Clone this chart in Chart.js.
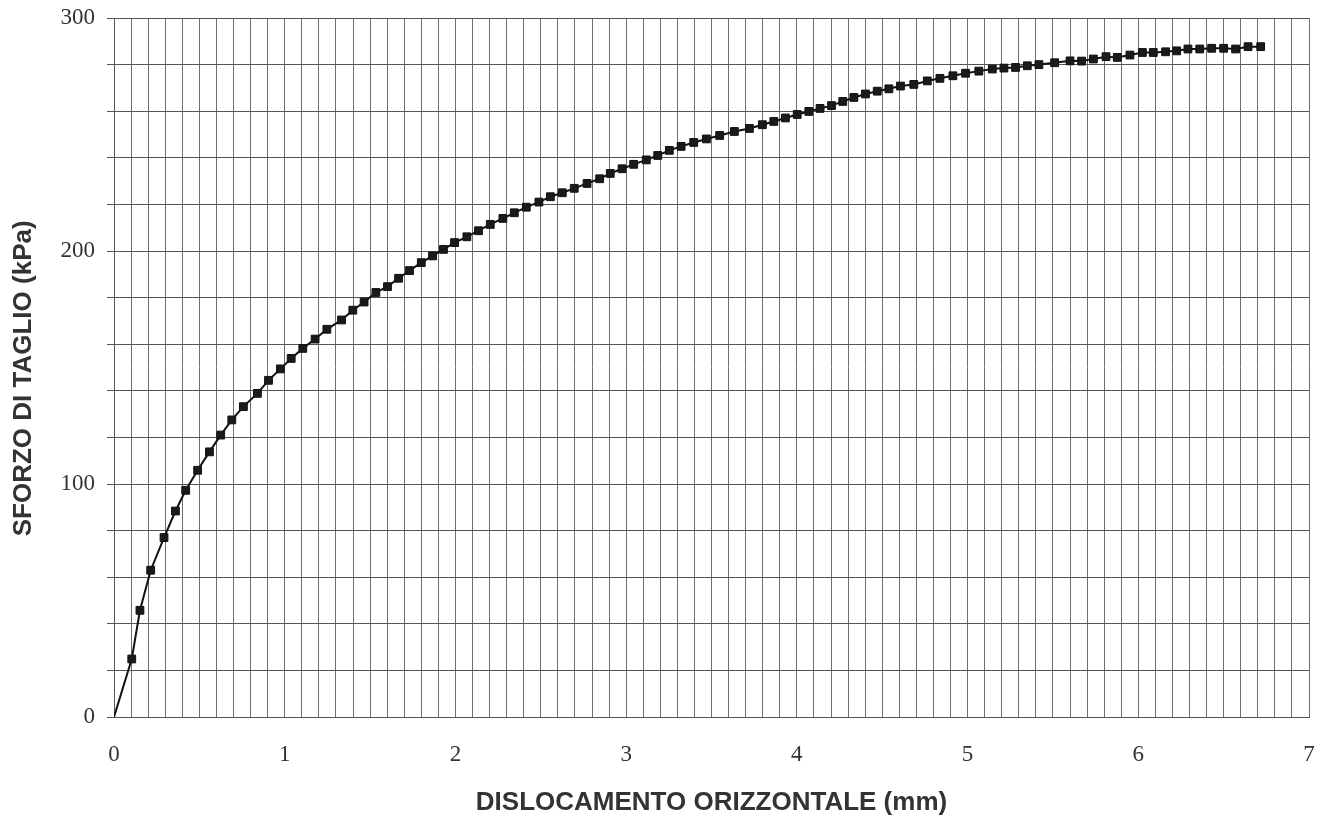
<!DOCTYPE html>
<html>
<head>
<meta charset="utf-8">
<script src="https://cdn.jsdelivr.net/npm/chart.js@4.4.1/dist/chart.umd.min.js"></script>
<style>
  html, body { margin: 0; padding: 0; background: #fff; }
  #wrap { width: 1329px; height: 822px; }
</style>
</head>
<body>
<div id="wrap"><canvas id="grafico" width="1329" height="822"></canvas></div>
<script>
// Dati: dislocamento orizzontale (mm) e sforzo di taglio (kPa)
const dislocamento = [
  0, 0.104, 0.152, 0.215, 0.293, 0.360, 0.420, 0.490, 0.559, 0.625,
  0.690, 0.758, 0.840, 0.905, 0.975, 1.038, 1.106, 1.178, 1.247, 1.333,
  1.399, 1.465, 1.534, 1.602, 1.667, 1.731, 1.800, 1.866, 1.930, 1.995,
  2.067, 2.135, 2.204, 2.278, 2.345, 2.415, 2.489, 2.556, 2.626, 2.696,
  2.771, 2.845, 2.907, 2.976, 3.044, 3.118, 3.185, 3.253, 3.322, 3.396,
  3.470, 3.548, 3.634, 3.722, 3.798, 3.865, 3.933, 4.002, 4.070, 4.136,
  4.203, 4.269, 4.334, 4.402, 4.471, 4.539, 4.607, 4.685, 4.764, 4.838,
  4.914, 4.988, 5.066, 5.145, 5.213, 5.281, 5.350, 5.418, 5.510, 5.600,
  5.668, 5.737, 5.811, 5.877, 5.951, 6.024, 6.088, 6.160, 6.225, 6.291,
  6.360, 6.430, 6.500, 6.570, 6.643, 6.717
];
const sforzo = [
  0, 24.9, 45.8, 63.0, 77.0, 88.4, 97.3, 105.9, 113.8, 121.0,
  127.5, 133.2, 138.9, 144.5, 149.4, 153.9, 158.2, 162.2, 166.4, 170.4,
  174.6, 178.1, 182.2, 184.7, 188.3, 191.6, 195.0, 197.9, 200.7, 203.6,
  206.1, 208.7, 211.4, 214.0, 216.4, 218.8, 221.0, 223.3, 225.0, 226.9,
  229.0, 231.0, 233.3, 235.3, 237.2, 239.1, 241.0, 243.2, 244.9, 246.6,
  248.1, 249.6, 251.3, 252.6, 254.2, 255.6, 257.1, 258.6, 259.9, 261.2,
  262.4, 264.2, 265.9, 267.4, 268.6, 269.6, 270.8, 271.5, 273.0, 274.1,
  275.2, 276.3, 277.2, 278.1, 278.5, 278.8, 279.5, 280.0, 280.8, 281.6,
  281.5, 282.4, 283.4, 283.1, 284.1, 285.2, 285.2, 285.5, 285.9, 286.7,
  286.7, 287.0, 287.0, 286.7, 287.7, 287.7
];
const etichetteX = [0, 1, 2, 3, 4, 5, 6, 7];
const etichetteY = [0, 100, 200, 300];

const punti = dislocamento.map((x, i) => ({ x: x, y: sforzo[i] }));

function etichetta(lista) {
  return (v) => {
    const r = Math.round(v);
    return Math.abs(v - r) < 1e-6 && lista.includes(r) ? String(r) : '';
  };
}

const fontTick = { family: '"Liberation Serif", "Times New Roman", serif', size: 23 };
const fontTitolo = { family: '"Liberation Sans", Arial, sans-serif', size: 26, weight: 'bold', lineHeight: 1 };

new Chart(document.getElementById('grafico').getContext('2d'), {
  type: 'line',
  data: {
    datasets: [{
      data: punti,
      borderColor: '#111',
      borderWidth: 2,
      tension: 0,
      pointStyle: 'rect',
      pointRadius: (ctx) => ctx.dataIndex === 0 ? 0 : 5.5,
      pointBackgroundColor: '#1a1a1a',
      pointBorderColor: '#111',
      pointBorderWidth: 1
    }]
  },
  options: {
    responsive: false,
    animation: false,
    layout: { padding: { top: 18, right: 20, left: 0, bottom: 0 } },
    plugins: { legend: { display: false }, tooltip: { enabled: false } },
    scales: {
      x: {
        type: 'linear',
        min: 0,
        max: 7,
        afterFit: (s) => { s.height = 105; s.paddingLeft = 0; s.paddingRight = 0; },
        ticks: {
          stepSize: 0.1,
          autoSkip: false,
          maxRotation: 0,
          padding: 24,
          color: '#333',
          font: fontTick,
          callback: etichetta(etichetteX)
        },
        grid: { color: '#6e6e6e', lineWidth: 1, drawTicks: false },
        border: { color: '#555', width: 1 },
        title: {
          display: true,
          text: 'DISLOCAMENTO ORIZZONTALE (mm)',
          color: '#333',
          font: fontTitolo,
          padding: { top: 0, bottom: 6 }
        }
      },
      y: {
        min: 0,
        max: 300,
        afterFit: (s) => { s.width = 114; s.paddingTop = 0; s.paddingBottom = 0; },
        ticks: {
          stepSize: 20,
          autoSkip: false,
          padding: 12,
          color: '#333',
          font: fontTick,
          callback: etichetta(etichetteY)
        },
        grid: { color: '#555', lineWidth: 1, tickLength: 7 },
        border: { color: '#555', width: 1 },
        title: {
          display: true,
          // spazi finali: il titolo nell'originale sta un po' sotto il centro
          text: 'SFORZO DI TAGLIO (kPa)   ',
          color: '#333',
          font: fontTitolo,
          padding: { top: 11, bottom: 0 }
        }
      }
    }
  }
});
</script>
</body>
</html>
